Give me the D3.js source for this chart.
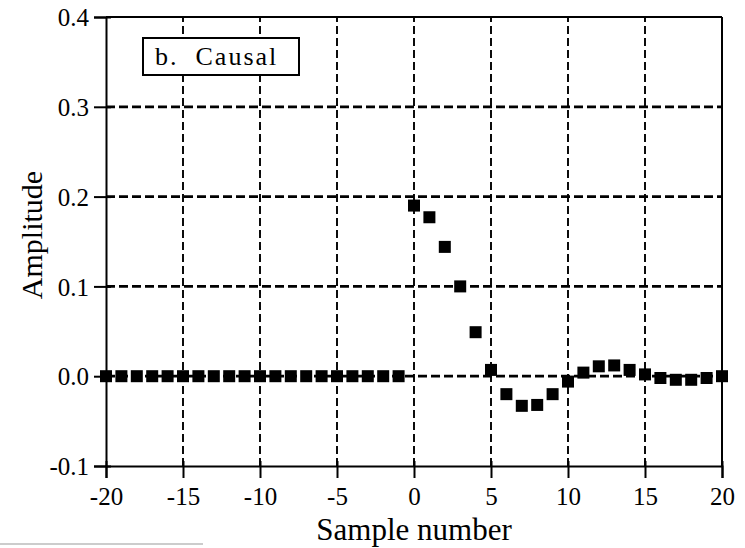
<!DOCTYPE html>
<html><head><meta charset="utf-8">
<script src="https://cdn.jsdelivr.net/npm/d3@7"></script>
<style>body{margin:0;background:#fff}svg{display:block}</style>
</head><body>
<script>
const sampleNumbers = d3.range(-20, 21);
const amplitudes = [
  0,0,0,0,0,0,0,0,0,0,0,0,0,0,0,0,0,0,0,0,
  0.190, 0.177, 0.144, 0.100, 0.049, 0.007, -0.020, -0.033, -0.032, -0.020,
  -0.006, 0.004, 0.011, 0.012, 0.007, 0.002, -0.002, -0.004, -0.004, -0.002, 0.000
];
const xTicks = [-20,-15,-10,-5,0,5,10,15,20];
const yTicks = [-0.1,0.0,0.1,0.2,0.3,0.4];
const legendText = "b.  Causal";

const W = 745, H = 548;
const m = {l:106, r:23, t:17, b:82};
const svg = d3.select("body").append("svg").attr("width", W).attr("height", H);
const x = d3.scaleLinear().domain([-20,20]).range([m.l, W-m.r]);
const y = d3.scaleLinear().domain([-0.1,0.4]).range([H-m.b, m.t]);
const font = '"Liberation Serif", "Times New Roman", serif';

// grid
svg.append("g").selectAll("line").data(yTicks.filter(v=>v>-0.1 && v<0.4)).join("line")
  .attr("x1", x(-20)).attr("x2", x(20)).attr("y1", d=>y(d)).attr("y2", d=>y(d))
  .attr("stroke","#000").attr("stroke-width",2.8).attr("stroke-dasharray","9,4");
svg.append("g").selectAll("line").data(xTicks.filter(v=>v>-20 && v<20)).join("line")
  .attr("y1", y(-0.1)).attr("y2", y(0.4)).attr("x1", d=>x(d)).attr("x2", d=>x(d))
  .attr("stroke","#000").attr("stroke-width",1.9).attr("stroke-dasharray","8,4");

// axes
const hy = s => s.replace("\u2212","-");
const xAxis = svg.append("g").attr("transform",`translate(0,${y(-0.1)})`)
  .call(d3.axisBottom(x).tickValues(xTicks).tickSize(12).tickPadding(9).tickFormat(d=>hy(d3.format("d")(d))));
const yAxis = svg.append("g").attr("transform",`translate(${x(-20)},0)`)
  .call(d3.axisLeft(y).tickValues(yTicks).tickSize(12).tickPadding(5).tickFormat(d=>hy(d3.format(".1f")(d))));
[xAxis,yAxis].forEach(a=>{
  a.attr("font-family",null).attr("font-size",null);
  a.select(".domain").attr("stroke-width",2);
  a.selectAll(".tick line").attr("stroke-width",2);
  a.selectAll("text").style("font-family",font).style("font-size","25px").attr("fill","#000");
});
xAxis.selectAll(".tick line").attr("y1",-5);
yAxis.selectAll(".tick line").attr("x1",5);
yAxis.selectAll("text").attr("dy","0.35em");

// frame top/right
svg.append("line").attr("x1",x(-20)).attr("x2",x(20)).attr("y1",y(0.4)).attr("y2",y(0.4)).attr("stroke","#000").attr("stroke-width",2);
svg.append("line").attr("x1",x(20)).attr("x2",x(20)).attr("y1",y(0.4)).attr("y2",y(-0.1)).attr("stroke","#000").attr("stroke-width",2);

// markers
const s = 12;
svg.append("g").selectAll("rect").data(sampleNumbers.map((n,i)=>[n,amplitudes[i]])).join("rect")
  .attr("x", d=>x(d[0])-s/2).attr("y", d=>y(d[1])-s/2).attr("width",s).attr("height",s).attr("fill","#000");

// legend
svg.append("rect").attr("x",143).attr("y",38).attr("width",156).attr("height",37)
  .attr("fill","#fff").attr("stroke","#000").attr("stroke-width",2);
svg.append("text").attr("x",155).attr("y",65)
  .style("font-family",font).style("font-size","26px").style("letter-spacing","2px").style("white-space","pre").text(legendText);

// titles
svg.append("text").attr("x",(x(-20)+x(20))/2).attr("y",540).attr("text-anchor","middle")
  .style("font-family",font).style("font-size","31px").text("Sample number");
svg.append("text").attr("transform",`translate(42,${235}) rotate(-90)`).attr("text-anchor","middle")
  .style("font-family",font).style("font-size","30px").text("Amplitude");

// stray gray line at bottom
svg.append("line").attr("x1",0).attr("x2",203).attr("y1",544).attr("y2",544).attr("stroke","#999").attr("stroke-width",1);
</script>
</body></html>
